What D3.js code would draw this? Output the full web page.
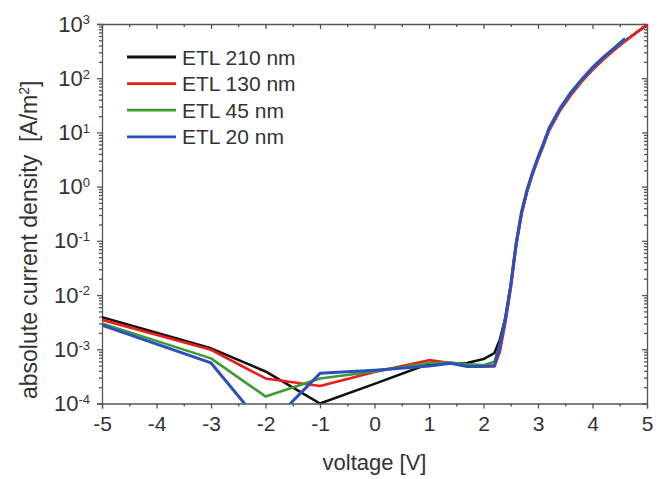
<!DOCTYPE html>
<html>
<head>
<meta charset="utf-8">
<script src="https://cdn.jsdelivr.net/npm/d3@7/dist/d3.min.js"></script>
<style>
  body { margin: 0; background: #fff; }
  svg { font-family: "Liberation Sans", Arial, sans-serif; }
</style>
</head>
<body>
<svg width="662" height="479"></svg>
<script>
// voltages [V]
let voltsLow = [-5, -3, -2, -1, 0, 1, 1.4, 1.7, 2, 2.2];
let voltsHigh = [2.3, 2.4, 2.5, 2.6, 2.7, 2.8, 2.9, 3.0, 3.1, 3.2, 3.4, 3.6, 3.8, 4.0, 4.2, 4.4, 4.6, 4.8, 5.0];

// absolute current density [A/m^2]
let etl210 = [3.9e-3, 1.04e-3, 3.9e-4, 1.0e-4, 2.3e-4, 5.4e-4, 5.5e-4, 5.6e-4, 6.6e-4, 8.5e-4,
  1.5e-3, 3.8e-3, 1.5e-2, 8.9e-2, 0.33, 0.83, 1.74, 3.3, 5.9, 11, 25.7, 50, 89, 148, 229, 339, 490, 692, 955];
let etl130 = [3.5e-3, 9.8e-4, 2.9e-4, 2.1e-4, 3.8e-4, 6.3e-4, 5.6e-4, 5.1e-4, 4.8e-4, 4.8e-4,
  9.0e-4, 3.0e-3, 1.3e-2, 8.0e-2, 0.31, 0.8, 1.68, 3.2, 5.7, 10.6, 24.8, 48, 86, 143, 222, 330, 480, 690, 965];
let etl45 = [3.0e-3, 6.8e-4, 1.35e-4, 2.9e-4, 3.9e-4, 5.6e-4, 5.7e-4, 5.3e-4, 5.1e-4, 5.9e-4,
  1.2e-3, 3.5e-3, 1.5e-2, 9.0e-2, 0.34, 0.86, 1.8, 3.4, 6.1, 11.4, 26.6, 52, 92, 154, 238, 352, 515];
let etl20 = [2.8e-3, 5.6e-4, 3.4e-5, 3.6e-4, 4.1e-4, 4.9e-4, 5.5e-4, 4.8e-4, 4.8e-4, 5.0e-4,
  1.2e-3, 3.6e-3, 1.55e-2, 9.2e-2, 0.35, 0.88, 1.84, 3.5, 6.3, 11.8, 27.5, 54, 95, 158, 245, 362, 540];

let seriesNames = ["ETL 210 nm", "ETL 130 nm", "ETL 45 nm", "ETL 20 nm"];
let seriesColors = ["#111111", "#ec1c1c", "#3c9c30", "#2d4fbe"];
let seriesValues = [etl210, etl130, etl45, etl20];

let xTicks = [-5, -4, -3, -2, -1, 0, 1, 2, 3, 4, 5];
let yTicks = [1e-4, 1e-3, 1e-2, 1e-1, 1e0, 1e1, 1e2, 1e3];

let volts = voltsLow.concat(voltsHigh);

let svg = d3.select("svg");
let margin = { top: 24, right: 15, bottom: 75.5, left: 102 };
let plotWidth = 662 - margin.left - margin.right;
let plotHeight = 479 - margin.top - margin.bottom;

let xScale = d3.scaleLinear().domain([-5, 5]).range([0, plotWidth]);
let yScale = d3.scaleLog().domain([1e-4, 1e3]).range([plotHeight, 0]);

let plot = svg.append("g").attr("transform", "translate(" + margin.left + "," + margin.top + ")");

plot.append("clipPath").attr("id", "clip")
  .append("rect").attr("width", plotWidth).attr("height", plotHeight);

// minor ticks
let halfTicks = d3.range(-4.5, 5, 1);
let minorY = [];
for (let e = -4; e < 3; e++) {
  for (let m = 2; m <= 9; m++) minorY.push(m * Math.pow(10, e));
}

let axisColor = "#555";
let textColor = "#333";

function styleAxis(g) {
  g.selectAll("path, line").attr("stroke", axisColor).attr("stroke-width", 1.3);
  g.selectAll("text").attr("fill", textColor).style("font-size", "21px");
}

// bottom
let xGroup = plot.append("g").attr("transform", "translate(0," + plotHeight + ")");
xGroup.call(d3.axisBottom(xScale).tickValues(xTicks).tickSize(5).tickPadding(8).tickFormat(function(d) { return String(d); }));
plot.append("g").attr("transform", "translate(0," + plotHeight + ")")
  .call(d3.axisBottom(xScale).tickValues(halfTicks).tickSize(3).tickFormat("")).call(styleAxis)
  .select(".domain").remove();
styleAxis(xGroup);

// top (inward)
let topGroup = plot.append("g");
topGroup.call(d3.axisBottom(xScale).tickValues(xTicks).tickSize(5).tickSizeOuter(0).tickFormat(""));
plot.append("g").call(d3.axisBottom(xScale).tickValues(halfTicks).tickSize(3).tickFormat(""))
  .call(styleAxis).select(".domain").remove();
styleAxis(topGroup);

// left
let yGroup = plot.append("g");
yGroup.call(d3.axisLeft(yScale).tickValues(yTicks).tickSize(5).tickPadding(7).tickFormat(""));
plot.append("g").call(d3.axisLeft(yScale).tickValues(minorY).tickSize(3).tickFormat(""))
  .call(styleAxis).select(".domain").remove();
styleAxis(yGroup);
yGroup.selectAll(".tick text").style("font-size", "22px").each(function(d) {
  let t = d3.select(this);
  t.append("tspan").text("10");
  t.append("tspan").attr("dy", "-0.55em").style("font-size", "13px").text(String(Math.round(Math.log10(d))));
});

// right (inward)
let rGroup = plot.append("g").attr("transform", "translate(" + plotWidth + ",0)");
rGroup.call(d3.axisLeft(yScale).tickValues(yTicks).tickSize(5).tickSizeOuter(0).tickFormat(""));
plot.append("g").attr("transform", "translate(" + plotWidth + ",0)")
  .call(d3.axisLeft(yScale).tickValues(minorY).tickSize(3).tickFormat(""))
  .call(styleAxis).select(".domain").remove();
styleAxis(rGroup);

// curves
let line = d3.line()
  .x(function(d) { return xScale(d[0]); })
  .y(function(d) { return yScale(d[1]); });

let curves = plot.append("g").attr("clip-path", "url(#clip)");
seriesValues.forEach(function(vals, i) {
  let pts = vals.map(function(v, j) { return [volts[j], v]; });
  curves.append("path")
    .attr("d", line(pts))
    .attr("fill", "none")
    .attr("stroke", seriesColors[i])
    .attr("stroke-width", i == 3 ? 3 : 2.6)
    .attr("stroke-linejoin", "round");
});

// legend
let legend = plot.append("g");
seriesNames.forEach(function(name, i) {
  let y = 33 + i * 26.6;
  legend.append("line")
    .attr("x1", 25).attr("x2", 74).attr("y1", y).attr("y2", y)
    .attr("stroke", seriesColors[i]).attr("stroke-width", 2.8);
  legend.append("text")
    .attr("x", 80).attr("y", y).attr("dy", "0.36em")
    .attr("fill", textColor).style("font-size", "21px")
    .text(name);
});

// axis titles
svg.append("text")
  .attr("x", margin.left + plotWidth / 2).attr("y", 470)
  .attr("text-anchor", "middle").attr("fill", textColor).style("font-size", "22px")
  .text("voltage [V]");

let yTitle = svg.append("text")
  .attr("transform", "translate(37,399) rotate(-90)")
  .attr("text-anchor", "start").attr("fill", textColor).style("font-size", "23px")
  .style("white-space", "pre");
yTitle.append("tspan").text("absolute current density  [A/m");
yTitle.append("tspan").attr("dy", "-0.6em").style("font-size", "14px").text("2");
yTitle.append("tspan").attr("dy", "0.4em").text("]");
</script>
</body>
</html>
